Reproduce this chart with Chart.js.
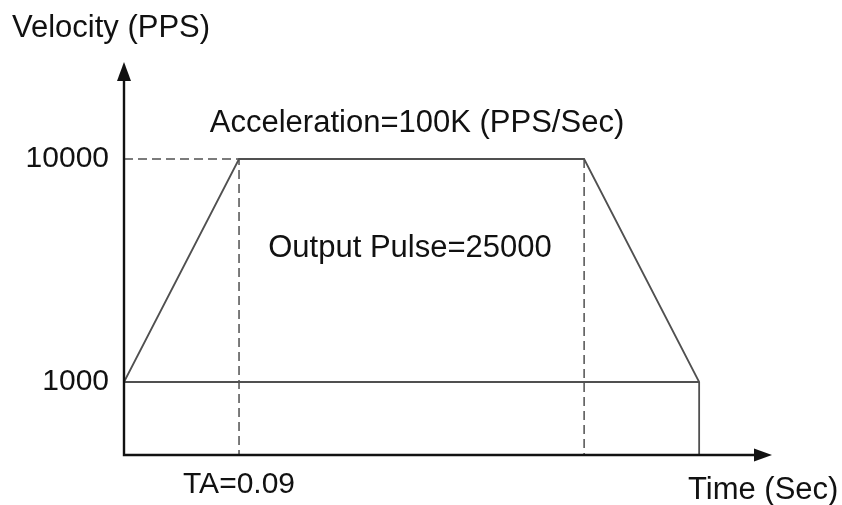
<!DOCTYPE html>
<html>
<head>
<meta charset="utf-8">
<script src="https://cdn.jsdelivr.net/npm/chart.js@4.4.1/dist/chart.umd.min.js"></script>
<style>
  html, body { margin: 0; padding: 0; background: #fff; }
  #wrap { width: 842px; height: 505px; }
</style>
</head>
<body>
<div id="wrap"><canvas id="c" width="842" height="505"></canvas></div>
<script>
"use strict";

// Trapezoid velocity profile: ramp up, cruise, ramp down.
const timePoints = [0, 0.09, 0.36, 0.45];
const velocity = [1000, 10000, 10000, 1000];
const startVelocity = 1000;
const maxVelocity = 10000;
const accelTime = 0.09;
const yTicks = [1000, 10000];
const xTicks = [0.09];

const xMin = 0, xMax = 0.507;
const yMin = -1946, yMax = 13915;

const FONT = "'Liberation Sans', Arial, sans-serif";
const lineGray = "#505050";

const pt = (x, y) => ({ x, y });
const endT = timePoints[timePoints.length - 1];
const decelT = timePoints[2];

// profile outline plus the drop to the time axis at the end
const profile = timePoints.map((t, i) => pt(t, velocity[i])).concat([pt(endT, yMin)]);
const baseLine = [pt(timePoints[0], startVelocity), pt(endT, startVelocity)];
const dashA = [pt(timePoints[0], maxVelocity), pt(accelTime, maxVelocity), pt(accelTime, yMin)];
const dashB = [pt(decelT, maxVelocity), pt(decelT, yMin)];

const solid = (data) => ({ data, borderColor: lineGray, borderWidth: 1.8, pointRadius: 0, fill: false, tension: 0, clip: false });
const dashed = (data) => Object.assign(solid(data), { borderDash: [9, 5], borderWidth: 1.5 });

// axes with arrowheads and the free-floating text labels
const decor = {
  id: "decor",
  afterDatasetsDraw(chart) {
    const { ctx, chartArea: a, scales } = chart;
    const x0 = scales.x.getPixelForValue(xMin);
    const y0 = scales.y.getPixelForValue(yMin);
    ctx.save();
    ctx.strokeStyle = "#111";
    ctx.fillStyle = "#111";
    ctx.lineWidth = 2.4;
    ctx.beginPath();
    ctx.moveTo(x0, y0);
    ctx.lineTo(x0, a.top + 14);
    ctx.moveTo(x0 - 1.2, y0);
    ctx.lineTo(a.right - 14, y0);
    ctx.stroke();
    // arrowheads
    ctx.beginPath();
    ctx.moveTo(x0, a.top);
    ctx.lineTo(x0 - 7, a.top + 19);
    ctx.lineTo(x0 + 7, a.top + 19);
    ctx.closePath();
    ctx.fill();
    ctx.beginPath();
    ctx.moveTo(a.right, y0);
    ctx.lineTo(a.right - 18, y0 - 6.5);
    ctx.lineTo(a.right - 18, y0 + 6.5);
    ctx.closePath();
    ctx.fill();

    ctx.fillStyle = "#111";
    ctx.font = "31px " + FONT;
    ctx.textBaseline = "alphabetic";
    ctx.textAlign = "left";
    ctx.fillText("Velocity (PPS)", 12, 37);
    ctx.fillText("Time (Sec)", 688, 499);
    ctx.textAlign = "center";
    ctx.fillText("Acceleration=100K (PPS/Sec)", 417, 132);
    ctx.fillText("Output Pulse=25000", 410, 257);
    ctx.restore();
  },
};

new Chart(document.getElementById("c"), {
  type: "line",
  data: {
    datasets: [solid(profile), solid(baseLine), dashed(dashA), dashed(dashB)],
  },
  options: {
    responsive: false,
    animation: false,
    layout: { padding: { top: 62, right: 70, left: 0, bottom: 0 } },
    plugins: { legend: { display: false }, tooltip: { enabled: false } },
    scales: {
      x: {
        type: "linear",
        min: xMin,
        max: xMax,
        afterBuildTicks: (s) => { s.ticks = xTicks.map((v) => ({ value: v })); },
        afterFit: (s) => { s.height = 50; },
        grid: { display: false, drawTicks: false },
        border: { display: false },
        ticks: {
          padding: 12,
          color: "#111",
          font: { size: 30, family: FONT },
          maxRotation: 0,
          callback: (v) => "TA=" + v,
        },
      },
      y: {
        type: "linear",
        min: yMin,
        max: yMax,
        afterBuildTicks: (s) => { s.ticks = yTicks.map((v) => ({ value: v })); },
        afterFit: (s) => { s.width = 124; },
        grid: { display: false, drawTicks: false },
        border: { display: false },
        ticks: {
          padding: 15,
          color: "#111",
          font: { size: 30, family: FONT },
          callback: (v) => String(v),
        },
      },
    },
  },
  plugins: [decor],
});
</script>
</body>
</html>
